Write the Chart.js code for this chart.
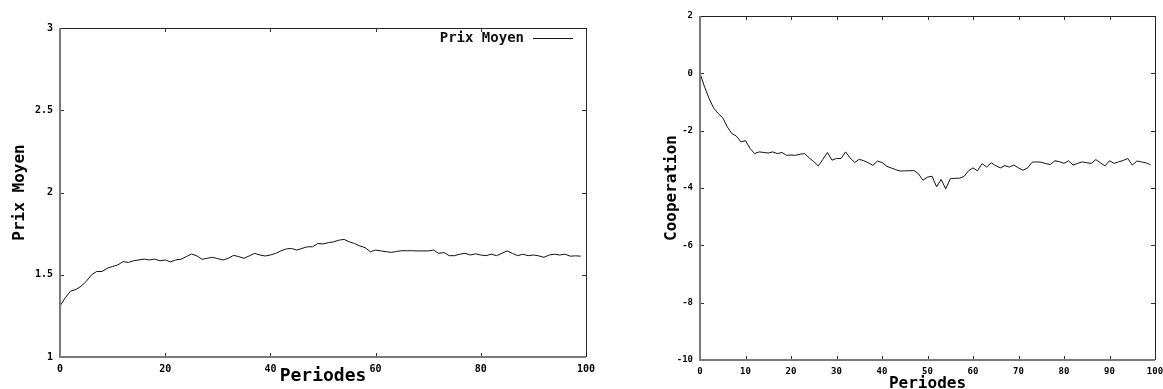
<!DOCTYPE html>
<html><head><meta charset="utf-8">
<script src="https://cdn.jsdelivr.net/npm/chart.js@4/dist/chart.umd.min.js"></script>
<style>
html,body{margin:0;padding:0;background:#fff;width:1163px;height:389px;overflow:hidden}
canvas{position:absolute;top:0}
#c1{left:0}
#c2{left:600px}
</style></head><body>
<canvas id="c1" width="600" height="389"></canvas>
<canvas id="c2" width="563" height="389"></canvas>
<script>
const periods=[0,1,2,3,4,5,6,7,8,9,10,11,12,13,14,15,16,17,18,19,20,21,22,23,24,25,26,27,28,29,30,31,32,33,34,35,36,37,38,39,40,41,42,43,44,45,46,47,48,49,50,51,52,53,54,55,56,57,58,59,60,61,62,63,64,65,66,67,68,69,70,71,72,73,74,75,76,77,78,79,80,81,82,83,84,85,86,87,88,89,90,91,92,93,94,95,96,97,98,99];
const prixMoyen=[1.31,1.36,1.40,1.41,1.43,1.46,1.50,1.52,1.52,1.54,1.55,1.56,1.58,1.575,1.585,1.59,1.595,1.59,1.595,1.585,1.59,1.578,1.59,1.594,1.61,1.626,1.615,1.594,1.60,1.606,1.598,1.59,1.60,1.618,1.61,1.60,1.615,1.63,1.62,1.614,1.62,1.63,1.645,1.657,1.66,1.65,1.66,1.67,1.67,1.69,1.687,1.695,1.70,1.71,1.715,1.70,1.69,1.675,1.665,1.64,1.65,1.645,1.64,1.636,1.642,1.646,1.646,1.646,1.645,1.645,1.645,1.65,1.63,1.635,1.616,1.616,1.625,1.63,1.62,1.627,1.62,1.616,1.625,1.616,1.63,1.645,1.63,1.616,1.625,1.616,1.62,1.615,1.606,1.62,1.625,1.62,1.625,1.613,1.615,1.613];
const cooperation=[0,-0.47,-0.88,-1.21,-1.40,-1.55,-1.87,-2.10,-2.19,-2.39,-2.35,-2.62,-2.80,-2.74,-2.76,-2.78,-2.74,-2.80,-2.76,-2.86,-2.85,-2.86,-2.82,-2.80,-2.95,-3.08,-3.23,-3.0,-2.76,-3.03,-2.97,-2.97,-2.74,-2.95,-3.11,-3.0,-3.05,-3.12,-3.21,-3.06,-3.11,-3.24,-3.30,-3.36,-3.41,-3.40,-3.40,-3.39,-3.50,-3.73,-3.62,-3.59,-3.96,-3.70,-4.03,-3.68,-3.66,-3.66,-3.60,-3.40,-3.30,-3.40,-3.15,-3.27,-3.12,-3.22,-3.30,-3.22,-3.27,-3.20,-3.30,-3.38,-3.30,-3.10,-3.09,-3.10,-3.15,-3.18,-3.05,-3.08,-3.14,-3.05,-3.20,-3.14,-3.09,-3.12,-3.14,-3.01,-3.12,-3.23,-3.05,-3.14,-3.09,-3.04,-2.97,-3.20,-3.06,-3.09,-3.12,-3.19];
const leftXTicks=[0,20,40,60,80,100];
const leftYTicks=[1,1.5,2,2.5,3];
const rightXTicks=[0,10,20,30,40,50,60,70,80,90,100];
const rightYTicks=[-10,-8,-6,-4,-2,0,2];

const MONO='"DejaVu Sans Mono", monospace';

const frame={
  id:'frame',
  afterDatasetsDraw(chart,args,opts){
    const {ctx,chartArea:a,scales:{x,y}}=chart;
    ctx.save();
    ctx.lineWidth=1;ctx.strokeStyle='#333';
    const L=(x1,y1,x2,y2)=>{ctx.beginPath();ctx.moveTo(x1,y1);ctx.lineTo(x2,y2);ctx.stroke();};
    const tl=opts.tick||4;
    x.ticks.forEach(t=>{const p=Math.round(x.getPixelForValue(t.value))+0.5;L(p,a.bottom,p,a.bottom-tl);L(p,a.top,p,a.top+tl);});
    y.ticks.forEach(t=>{const p=Math.round(y.getPixelForValue(t.value))+0.5;L(a.left,p,a.left+tl,p);L(a.right,p,a.right-tl,p);});
    ctx.strokeStyle='#222';
    L(a.left,Math.round(a.top)+0.5,a.right,Math.round(a.top)+0.5);
    L(Math.round(a.right)+0.5,a.top,Math.round(a.right)+0.5,a.bottom);
    ctx.strokeStyle='#7a7a7a';ctx.lineWidth=2;
    L(Math.round(a.left),a.top,Math.round(a.left),a.bottom+1);
    L(a.left,Math.round(a.bottom),a.right,Math.round(a.bottom));
    if(opts.legend){
      const ds=chart.data.datasets[0];
      ctx.font='bold 14px '+MONO;ctx.fillStyle='#111';ctx.textAlign='right';ctx.textBaseline='middle';
      const ly=a.top+10;
      ctx.fillText(ds.label,a.right-62,ly);
      ctx.strokeStyle='#111';ctx.lineWidth=1;
      L(a.right-53,Math.round(ly)+0.5,a.right-13,Math.round(ly)+0.5);
    }
    ctx.restore();
  }
};

function makeChart(id,cfg){
  return new Chart(document.getElementById(id),{
    type:'line',
    data:{datasets:[{label:cfg.label,data:periods.map((p,i)=>({x:p,y:cfg.values[i]})),borderColor:'#111',borderWidth:1,pointRadius:0,tension:0,fill:false}]},
    options:{
      responsive:false,animation:false,devicePixelRatio:1,
      layout:{padding:cfg.pad},
      plugins:{legend:{display:false},tooltip:{enabled:false},frame:{legend:cfg.legend,tick:cfg.tick}},
      scales:{
        x:{type:'linear',min:0,max:100,
          afterBuildTicks:s=>{s.ticks=cfg.xTicks.map(v=>({value:v}));},
          afterFit:s=>{s.height=cfg.xh;s.paddingLeft=0;s.paddingRight=0;},
          grid:{display:false,drawTicks:false},border:{display:false},
          ticks:{autoSkip:false,maxRotation:0,padding:cfg.xtp,color:'#000',font:{family:MONO,weight:'bold',size:cfg.tickSize},callback:v=>String(v)},
          title:{display:true,text:'Periodes',color:'#000',font:{family:MONO,weight:'bold',size:cfg.xTitleSize},padding:{top:0,bottom:cfg.xTitlePad}}
        },
        y:{type:'linear',min:cfg.ymin,max:cfg.ymax,
          afterBuildTicks:s=>{s.ticks=cfg.yTicks.map(v=>({value:v}));},
          afterFit:s=>{s.width=cfg.yw;s.paddingTop=0;s.paddingBottom=0;},
          grid:{display:false,drawTicks:false},border:{display:false},
          ticks:{autoSkip:false,padding:7,color:'#000',font:{family:MONO,weight:'bold',size:cfg.tickSize},callback:v=>String(v)},
          title:{display:true,text:cfg.ytitle,color:'#000',font:{family:MONO,weight:'bold',size:16},padding:{top:cfg.yTitlePad,bottom:0}}
        }
      }
    },
    plugins:[frame]
  });
}

makeChart('c1',{label:'Prix Moyen',values:prixMoyen,xTicks:leftXTicks,yTicks:leftYTicks,ymin:1,ymax:3,
  pad:{left:0,right:14,top:28,bottom:0},xh:32,yw:60,xtp:6,tickSize:10,xTitleSize:18,xTitlePad:2,ytitle:'Prix Moyen',yTitlePad:10,legend:true,tick:4});
makeChart('c2',{label:'Cooperation',values:cooperation,xTicks:rightXTicks,yTicks:rightYTicks,ymin:-10,ymax:2,
  pad:{left:0,right:8,top:16,bottom:0},xh:29,yw:100,xtp:6,tickSize:9,xTitleSize:16,xTitlePad:-4,ytitle:'Cooperation',yTitlePad:62,legend:false,tick:4});
</script>
</body></html>
